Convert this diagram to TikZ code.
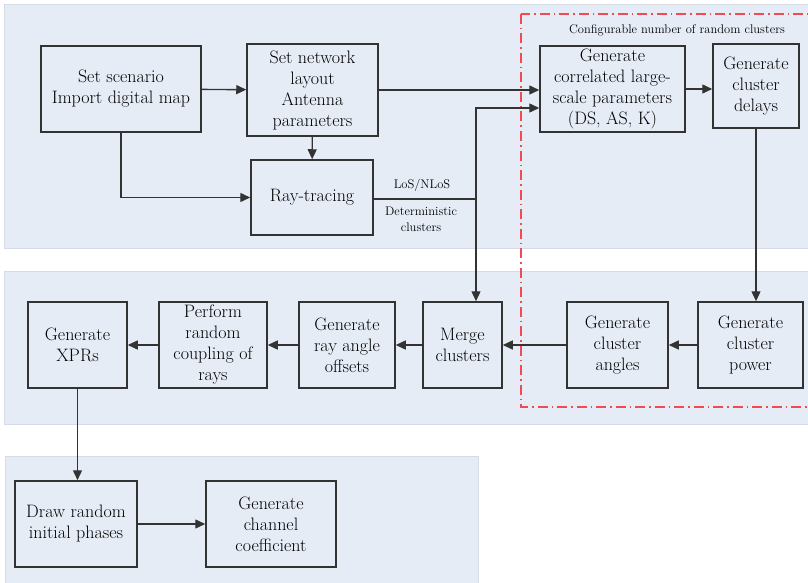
\documentclass[tikz,border=0pt]{standalone}
\usepackage{xcolor}
\usepackage{tikz}
\usetikzlibrary{arrows.meta,positioning,calc}

\definecolor{panelblue}{HTML}{E6ECF6}
\definecolor{paneledge}{HTML}{D6DCE6}
\definecolor{dashred}{HTML}{F04A55}

\begin{document}
\begin{tikzpicture}[
  x=1pt,
  y=-1pt,
  >={Triangle[length=10pt,width=9pt]},
  panel/.style={fill=panelblue, draw=paneledge, line width=0.8pt},
  block/.style={draw=black!80, line width=1.5pt, align=center, inner sep=0pt,
    text=black, font=\fontsize{18}{21}\selectfont},
  flow/.style={draw=black!80, line width=1.4pt, ->},
  wire/.style={draw=black!80, line width=1.4pt},
  note/.style={text=black, font=\fontsize{12.5}{16}\selectfont, align=center},
  region/.style={draw=dashred, line width=1.3pt, dash pattern=on 10pt off 4pt on 1.5pt off 4pt}
]
% Canvas in pixel units: x grows to the right, y grows downwards.
\useasboundingbox (0,0) rectangle (808,583);

% Background bands.
\draw[panel] (4,4) rectangle (812,248);
\draw[panel] (4,271) rectangle (812,424);
\draw[panel] (5,456) rectangle (478,590);

% Random-cluster region.
\draw[region] (521,14) rectangle (815,407);
\node[note] (conf) at (677,30) {Configurable number of random clusters};

% First band: scenario, layout and deterministic part.
\node[block, minimum width=160, minimum height=86] (scenario) at (121,89) {Set scenario\\Import digital map};
\node[block, minimum width=131, minimum height=92] (network) at (312.5,90) {Set network\\layout\\Antenna\\parameters};
\node[block, minimum width=122, minimum height=75] (raytrace) at (312,197.5) {Ray-tracing};
\node[block, minimum width=145, minimum height=86] (lsp) at (612.5,89) {Generate\\correlated large-\\scale parameters\\(DS, AS, K)};
\node[block, minimum width=86, minimum height=84] (delays) at (756,86) {Generate\\cluster\\delays};

\node[note] (los) at (422,185) {LoS/NLoS};
\node[note] (det) at (421,219) {Deterministic\\clusters};

% Second band: right to left.
\node[block, minimum width=99, minimum height=86] (xprs) at (77.5,345) {Generate\\XPRs};
\node[block, minimum width=108, minimum height=86] (coupling) at (213,345) {Perform\\random\\coupling of\\rays};
\node[block, minimum width=96, minimum height=86] (offsets) at (347,345) {Generate\\ray angle\\offsets};
\node[block, minimum width=79, minimum height=86] (merge) at (462.5,345) {Merge\\clusters};
\node[block, minimum width=101, minimum height=86] (angles) at (617.5,345) {Generate\\cluster\\angles};
\node[block, minimum width=105, minimum height=86] (power) at (750.5,345) {Generate\\cluster\\power};

% Third band.
\node[block, minimum width=122, minimum height=86] (drawph) at (76,524) {Draw random\\initial phases};
\node[block, minimum width=130, minimum height=86] (channel) at (271,524) {Generate\\channel\\coefficient};

% Connectors.
\coordinate (split) at (476,199);
\draw[flow] (scenario) -- (network);
\draw[flow] (network.east) -- (network.east -| lsp.west);
\draw[flow] (network) -- (raytrace);
\draw[flow] (scenario.south) |- (raytrace.west);
\draw[wire] (raytrace.east |- split) -- (split);
\draw[flow] (split) |- ($(lsp.west)+(0,19)$);
\draw[flow] (split) -- (split |- merge.north);
\draw[flow] (lsp.east) -- (lsp.east -| delays.west);
\draw[flow] (delays.south) -- (delays.south |- power.north);
\foreach \a/\b in {power/angles,angles/merge,merge/offsets,offsets/coupling,coupling/xprs} {
  \draw[flow] (\a) -- (\b);
}
\draw[flow] (xprs.south) -- (xprs.south |- drawph.north);
\draw[flow] (drawph) -- (channel);
\end{tikzpicture}
\end{document}
